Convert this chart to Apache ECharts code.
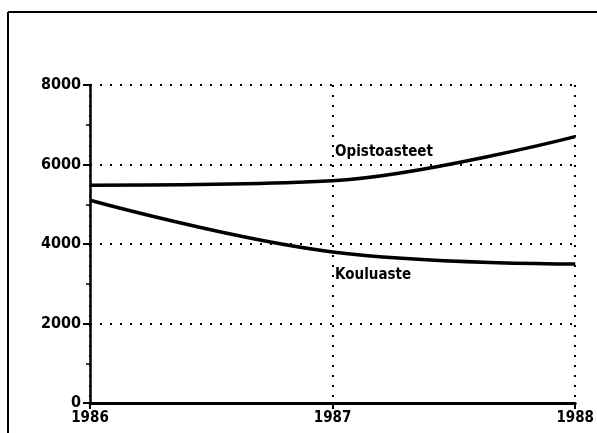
<!DOCTYPE html>
<html><head><meta charset="utf-8">
<script src="https://cdn.jsdelivr.net/npm/echarts@6/dist/echarts.min.js"></script>
<style>html,body{margin:0;padding:0;background:#fff}#c{width:597px;height:433px}</style>
</head><body><div id="c"></div>
<script>
const years = ['1986', '1987', '1988'];
const opistoasteet = [5480, 5590, 6700];
const kouluaste = [5100, 3800, 3500];
const yTicks = [0, 2000, 4000, 6000, 8000];
const seriesNames = ['Opistoasteet', 'Kouluaste'];

const FONT = '"Liberation Sans Narrow", "DejaVu Sans Condensed", sans-serif';
const chart = echarts.init(document.getElementById('c'), null, {renderer: 'canvas'});
const labelStyle = {color: '#000', fontFamily: FONT, fontWeight: 'bold', fontSize: 15};

function nameMark(name, y) {
  return {
    symbol: 'circle', symbolSize: 1, itemStyle: {color: 'rgba(0,0,0,0)'},
    data: [{coord: [1, y], name: name}],
    label: Object.assign({show: true, formatter: name, position: 'right', distance: 2}, labelStyle, {fontSize: 15})
  };
}

chart.setOption({
  animation: false,
  backgroundColor: '#fff',
  grid: {left: 90, right: 20, top: 85, bottom: 30, containLabel: false},
  graphic: [
    {type: 'line', shape: {x1: 8, y1: 12, x2: 597, y2: 12}, style: {stroke: '#000', lineWidth: 2}},
    {type: 'line', shape: {x1: 8, y1: 12, x2: 8, y2: 433}, style: {stroke: '#000', lineWidth: 2}}
  ],
  xAxis: {
    type: 'category', data: years, boundaryGap: false,
    axisLine: {lineStyle: {color: '#000', width: 3}},
    axisTick: {show: true, length: 6, lineStyle: {color: '#000', width: 2}},
    axisLabel: Object.assign({margin: 8}, labelStyle, {fontSize: 15}),
    splitLine: {show: true, lineStyle: {color: '#000', width: 2, type: [2, 8]}}
  },
  yAxis: {
    type: 'value', min: yTicks[0], max: yTicks[yTicks.length - 1], interval: 2000,
    axisLine: {show: true, lineStyle: {color: '#000', width: 2.5}},
    axisTick: {show: true, length: 7, lineStyle: {color: '#000', width: 2}},
    minorTick: {show: true, splitNumber: 2, length: 4, lineStyle: {color: '#000', width: 1.5}},
    axisLabel: Object.assign({margin: 9, formatter: v => String(v)}, labelStyle, {fontSize: 16}),
    splitLine: {show: true, lineStyle: {color: '#000', width: 2, type: [2, 8]}}
  },
  series: [
    {
      name: seriesNames[0], type: 'line', data: opistoasteet, smooth: 0.35,
      symbol: 'none', lineStyle: {color: '#000', width: 3.5},
      markPoint: nameMark(seriesNames[0], 6320)
    },
    {
      name: seriesNames[1], type: 'line', data: kouluaste, smooth: 0.4,
      symbol: 'none', lineStyle: {color: '#000', width: 3.5},
      markPoint: nameMark(seriesNames[1], 3220)
    }
  ]
});
</script></body></html>
